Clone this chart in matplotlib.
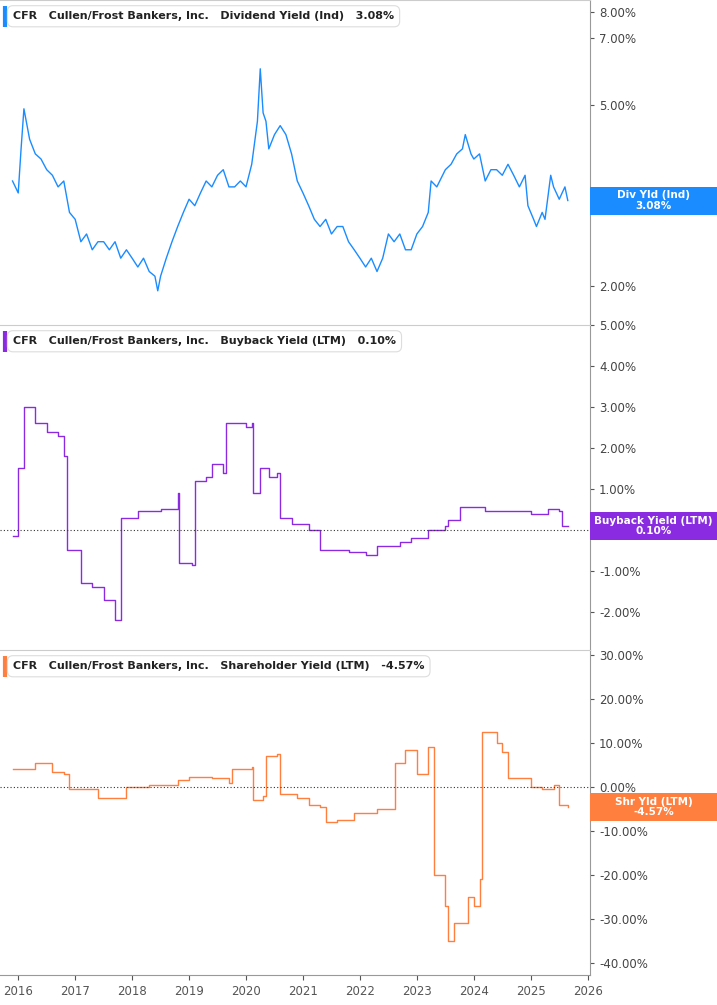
import matplotlib
matplotlib.use("Agg")
import matplotlib.pyplot as plt
from matplotlib.ticker import FixedLocator, NullLocator
from matplotlib.patches import Rectangle

div_t = [2015.9,2016.0,2016.05,2016.1,2016.2,2016.3,2016.4,2016.5,2016.6,2016.7,2016.8,2016.9,2017.0,2017.1,2017.2,2017.3,2017.4,2017.5,2017.6,2017.7,2017.8,2017.9,2018.0,2018.1,2018.2,2018.3,2018.4,2018.45,2018.5,2018.6,2018.7,2018.8,2018.9,2019.0,2019.1,2019.2,2019.3,2019.4,2019.5,2019.6,2019.7,2019.8,2019.9,2020.0,2020.1,2020.2,2020.25,2020.3,2020.35,2020.4,2020.5,2020.6,2020.7,2020.8,2020.9,2021.0,2021.1,2021.2,2021.3,2021.4,2021.5,2021.6,2021.7,2021.8,2021.9,2022.0,2022.1,2022.2,2022.3,2022.4,2022.5,2022.6,2022.7,2022.8,2022.9,2023.0,2023.1,2023.2,2023.25,2023.35,2023.5,2023.6,2023.7,2023.8,2023.85,2023.95,2024.0,2024.1,2024.2,2024.3,2024.4,2024.5,2024.6,2024.7,2024.8,2024.9,2024.95,2025.05,2025.1,2025.2,2025.25,2025.35,2025.4,2025.5,2025.55,2025.6,2025.65]
div_v = [3.4,3.2,4.0,4.9,4.2,3.9,3.8,3.6,3.5,3.3,3.4,2.9,2.8,2.5,2.6,2.4,2.5,2.5,2.4,2.5,2.3,2.4,2.3,2.2,2.3,2.15,2.1,1.95,2.1,2.3,2.5,2.7,2.9,3.1,3.0,3.2,3.4,3.3,3.5,3.6,3.3,3.3,3.4,3.3,3.7,4.6,6.0,4.8,4.6,4.0,4.3,4.5,4.3,3.9,3.4,3.2,3.0,2.8,2.7,2.8,2.6,2.7,2.7,2.5,2.4,2.3,2.2,2.3,2.15,2.3,2.6,2.5,2.6,2.4,2.4,2.6,2.7,2.9,3.4,3.3,3.6,3.7,3.9,4.0,4.3,3.9,3.8,3.9,3.4,3.6,3.6,3.5,3.7,3.5,3.3,3.5,3.0,2.8,2.7,2.9,2.8,3.5,3.3,3.1,3.2,3.3,3.08]

bb_t = [2015.9,2015.98,2016.0,2016.1,2016.3,2016.5,2016.7,2016.8,2016.85,2017.1,2017.3,2017.5,2017.7,2017.8,2018.1,2018.5,2018.8,2018.82,2019.05,2019.1,2019.3,2019.4,2019.6,2019.65,2020.0,2020.1,2020.12,2020.25,2020.4,2020.55,2020.6,2020.8,2021.1,2021.3,2021.8,2022.1,2022.3,2022.7,2022.9,2023.2,2023.5,2023.55,2023.75,2024.2,2024.7,2025.0,2025.3,2025.5,2025.55,2025.65]
bb_v = [-0.15,-0.15,1.5,3.0,2.6,2.4,2.3,1.8,-0.5,-1.3,-1.4,-1.7,-2.2,0.3,0.45,0.5,0.9,-0.8,-0.85,1.2,1.3,1.6,1.4,2.6,2.5,2.6,0.9,1.5,1.3,1.4,0.3,0.15,0.0,-0.5,-0.55,-0.6,-0.4,-0.3,-0.2,0.0,0.1,0.25,0.55,0.45,0.45,0.4,0.5,0.45,0.1,0.1]

sh_t = [2015.9,2016.3,2016.6,2016.8,2016.9,2017.3,2017.4,2017.8,2017.9,2018.3,2018.8,2019.0,2019.4,2019.7,2019.75,2020.1,2020.12,2020.3,2020.35,2020.55,2020.6,2020.9,2021.1,2021.3,2021.4,2021.6,2021.9,2022.1,2022.3,2022.6,2022.62,2022.8,2023.0,2023.2,2023.3,2023.5,2023.55,2023.65,2023.9,2024.0,2024.1,2024.15,2024.4,2024.5,2024.6,2025.0,2025.2,2025.4,2025.5,2025.65]
sh_v = [4,5.5,3.5,3.0,-0.5,-0.5,-2.5,-2.5,0,0.5,1.5,2.3,2.0,0.8,4.0,4.5,-3,-2,7,7.5,-1.5,-2.5,-4,-4.5,-8,-7.5,-6,-6,-5,-5,5.5,8.5,3,9,-20,-27,-35,-31,-25,-27,-21,12.5,10,8,2,0,-0.5,0.5,-4,-4.57]

x_years = list(range(2016, 2027))

FW, FH = 717, 1005
fig = plt.figure(figsize=(7.17, 10.05), dpi=100)
W = 590/FW
h = 325/FH
ax1 = fig.add_axes([0, 1-325/FH, W, h])
ax2 = fig.add_axes([0, 1-650/FH, W, h])
ax3 = fig.add_axes([0, 1-975/FH, W, h])

specs = [
 (ax1, div_t, div_v, '#1a8cff', 'Dividend Yield (Ind)', '3.08%', 'Div Yld (Ind)', 3.08),
 (ax2, bb_t, bb_v, '#8a2be2', 'Buyback Yield (LTM)', '0.10%', 'Buyback Yield (LTM)', 0.10),
 (ax3, sh_t, sh_v, '#ff7f3f', 'Shareholder Yield (LTM)', '-4.57%', 'Shr Yld (LTM)', -4.57),
]
ylims = [(1.64, 8.5), (-2.93, 5.0), (-42.7, 31.1)]
for i, (ax, t, v, c, name, val, badge, last) in enumerate(specs):
    if i == 0:
        ax.plot(t, v, color=c, lw=1)
        ax.set_yscale('log')
    else:
        ax.step(t, v, where='post', color=c, lw=1)
        ax.axhline(0, color='#333333', lw=0.8, ls=(0, (1, 2)))
    ax.set_xlim(2015.68, 2026.04)
    ax.set_ylim(*ylims[i])
    ax.spines['left'].set_visible(False)
    ax.spines['bottom'].set_visible(False)
    ax.spines['top'].set_color('#cccccc')
    ax.spines['right'].set_color('#999999')
    ax.yaxis.tick_right()
    ax.tick_params(axis='y', labelsize=8.5, colors='#555555', length=3, labelcolor='#444444')
    ax.tick_params(axis='x', labelsize=8.5, colors='#555555')
    ax.annotate(f'CFR   Cullen/Frost Bankers, Inc.   {name}   {val}', xy=(0.022, 0.95),
                xycoords='axes fraction', fontsize=8, fontweight='bold', color='#222222', va='center',
                bbox=dict(boxstyle='round,pad=0.5', fc='white', ec='#dddddd', lw=0.8))
    ax.plot([0.008, 0.008], [0.918, 0.982], transform=ax.transAxes, color=c, lw=3, solid_capstyle='butt')
    # badge across right margin
    disp = ax.transData.transform((2020, last))
    yfig = fig.transFigure.inverted().transform(disp)[1]
    bh = 28/FH
    fig.patches.append(Rectangle((W, yfig - bh/2), 1 - W, bh, transform=fig.transFigure,
                                 fc=c, ec='none', zorder=10))
    fig.text((W + 1)/2, yfig, f'{badge}\n{last:.2f}%', ha='center', va='center', fontsize=7.5,
             fontweight='bold', color='white', linespacing=1.05, zorder=11)
    ax.set_xticks(x_years)
    if i < 2:
        ax.tick_params(axis='x', bottom=False, labelbottom=False)
    else:
        ax.set_xticklabels([str(y) for y in x_years])

ax1.yaxis.set_major_locator(FixedLocator([2, 3, 5, 7, 8]))
ax1.yaxis.set_minor_locator(NullLocator())
ax1.set_yticklabels(['2.00%', '3.00%', '5.00%', '7.00%', '8.00%'])
ax2.set_yticks([-2, -1, 0, 1, 2, 3, 4, 5])
ax2.set_yticklabels([f'{y:.2f}%' for y in [-2, -1, 0, 1, 2, 3, 4, 5]])
ax3.set_yticks([-40, -30, -20, -10, 0, 10, 20, 30])
ax3.set_yticklabels([f'{y:.2f}%' for y in [-40, -30, -20, -10, 0, 10, 20, 30]])
ax3.spines['bottom'].set_visible(True)
ax3.spines['bottom'].set_color('#999999')

fig.savefig('out.png', dpi=100)
